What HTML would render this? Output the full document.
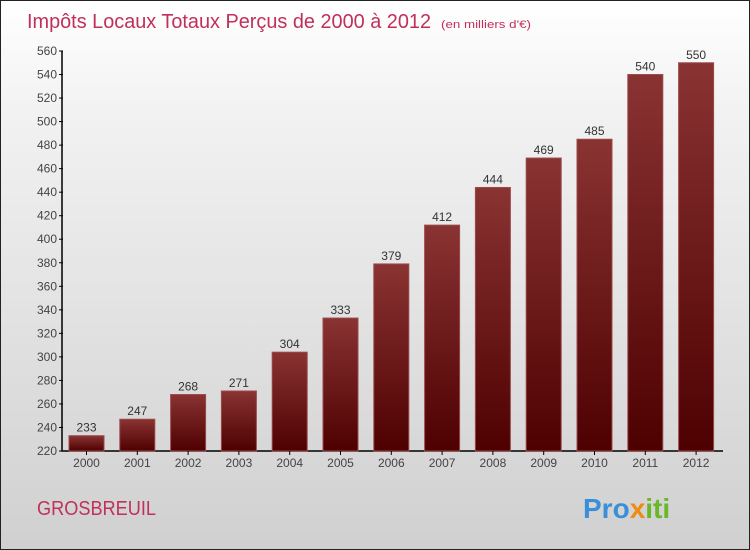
<!DOCTYPE html>
<html><head><meta charset="utf-8"><style>
body{margin:0;width:750px;height:550px;overflow:hidden;font-family:"Liberation Sans",sans-serif}
#c{position:absolute;left:0;top:0;width:748px;height:548px;border:1px solid #222;background:linear-gradient(#fff,#f2f2f2 20%,#d0d0d0)}
</style></head><body>
<div id="c">
<svg width="748" height="548" style="position:absolute;left:0;top:0" id="svg">
<defs><linearGradient id="bg" x1="0" y1="0" x2="0" y2="1"><stop offset="0" stop-color="#8a3333"/><stop offset="1" stop-color="#4e0000"/></linearGradient></defs>
<text x="26" y="27" font-size="20" fill="#c0305a" textLength="404" lengthAdjust="spacingAndGlyphs">Impôts Locaux Totaux Perçus de 2000 à 2012</text>
<text x="440" y="27" font-size="11" fill="#c0305a" textLength="90" lengthAdjust="spacingAndGlyphs">(en milliers d'€)</text>
<text x="36" y="514" font-size="20" fill="#c0305a" textLength="119" lengthAdjust="spacingAndGlyphs">GROSBREUIL</text>
<text x="582" y="517" font-size="28" font-weight="bold"><tspan fill="#3a8fd8">Pro</tspan><tspan fill="#f08a10">x</tspan><tspan fill="#6ab82a">iti</tspan></text>
<g id="g"></g>
</svg></div>
<script>
const years=["2000","2001","2002","2003","2004","2005","2006","2007","2008","2009","2010","2011","2012"];
const values=[233,247,268,271,304,333,379,412,444,469,485,540,550];
const yTicks=[220,240,260,280,300,320,340,360,380,400,420,440,460,480,500,520,540,560];
const ns="http://www.w3.org/2000/svg";
const g=document.getElementById('g');
const y=v=>450-(v-220)*400/340;
const x=i=>85.5+i*50.8;
function mk(t,a){const e=document.createElementNS(ns,t);for(const k in a)e.setAttribute(k,a[k]);g.appendChild(e);return e;}
const ax=mk('path',{d:'M61 50V450H722',stroke:'#000','stroke-width':1.5,fill:'none'});


yTicks.forEach(v=>{
 const t=mk('line',{x1:58,x2:62,y1:y(v),y2:y(v),stroke:'#000'});
 
 
 const l=mk('text',{x:56,y:y(v)+4,'font-size':12,fill:'#444','text-anchor':'end'});l.textContent=v;
 
 
});
years.forEach((yr,i)=>{
 const b=mk('rect',{x:x(i)-17.5,y:y(values[i]),width:35,height:450-y(values[i]),fill:'url(#bg)',stroke:'#9a4a4a','stroke-width':1});
 
 
 const v=mk('text',{x:x(i),y:y(values[i])-4,'font-size':12,fill:'#333','text-anchor':'middle'});v.textContent=values[i];
 
 
 const t=mk('line',{x1:x(i),x2:x(i),y1:450,y2:454,stroke:'#000'});
 
 
 const l=mk('text',{x:x(i),y:466,'font-size':12,fill:'#444','text-anchor':'middle'});l.textContent=yr;
 
 
});
</script>
</body></html>
